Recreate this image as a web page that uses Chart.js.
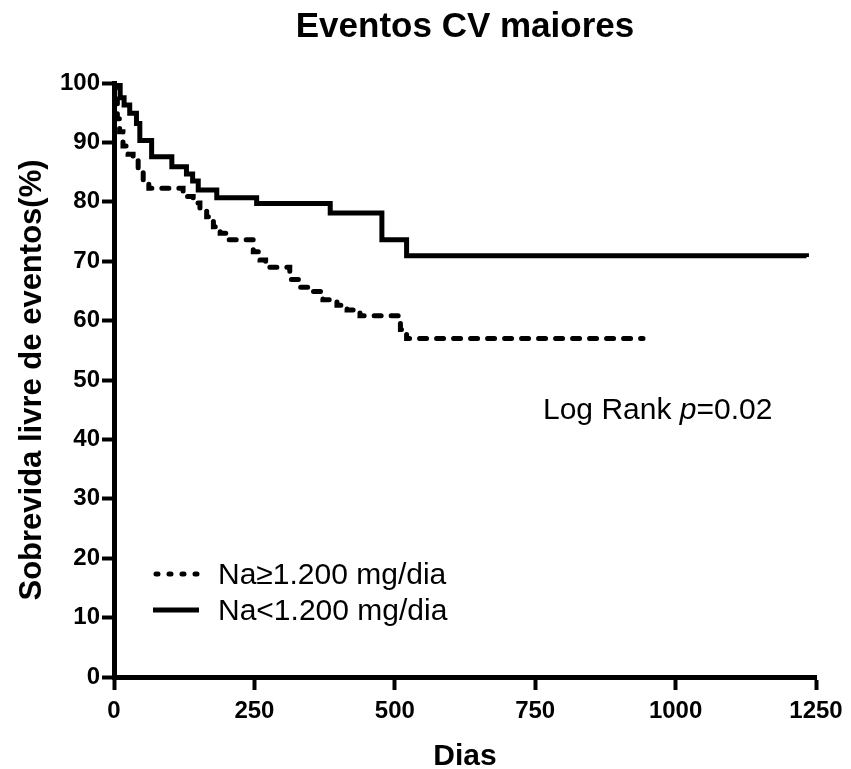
<!DOCTYPE html>
<html>
<head>
<meta charset="utf-8">
<script src="https://cdn.jsdelivr.net/npm/chart.js@4"></script>
<style>
    body { margin: 0; background: #fff; }
    #wrap { width: 851px; height: 769px; }
</style>
</head>
<body>
<div id="wrap"><canvas id="kmChart" width="851" height="769"></canvas></div>
<script>
// Na<1.200 mg/dia (solid line): day of each step and survival after it
const lowNaDays = [0, 11, 18, 28, 40, 46, 67, 103, 129, 140, 150, 183, 254, 385, 477, 521, 1233]
const lowNaSurv = [100, 97.5, 96.3, 94.9, 93.2, 90.3, 87.6, 85.9, 84.7, 83.5, 82.0, 80.7, 79.7, 78.1, 73.6, 70.9, 70.7]

// Na>=1.200 mg/dia (dashed line)
const highNaDays = [0, 3, 6, 10, 16, 25, 34, 43, 52, 62, 123, 141, 153, 165, 177, 189, 200, 248, 260, 270, 313, 331, 355, 372, 397, 415, 438, 510, 521, 942]
const highNaSurv = [100, 97, 94, 91.8, 89.4, 88, 87, 85.3, 83.7, 82.3, 80.9, 79.8, 78.5, 77.5, 75.8, 74.7, 73.6, 71.6, 70.2, 69.0, 66.9, 65.6, 64.9, 63.5, 62.6, 61.8, 60.8, 58.5, 57.0, 57.0]

const xTicks = [0, 250, 500, 750, 1000, 1250]
const yTicks = [0, 10, 20, 30, 40, 50, 60, 70, 80, 90, 100]

const legendLabels = ['Na\u22651.200 mg/dia', 'Na<1.200 mg/dia']

;(() => {
    'use strict'

    const FONT = '"Liberation Sans", Arial, Helvetica, sans-serif'
    Chart.defaults.font.family = FONT
    Chart.defaults.color = '#000'

    const toPoints = (days, surv) => days.map((d, i) => ({ x: d, y: surv[i] }))

    // legend and log rank text, placed inside the plot like the original
    const notes = {
        id: 'notes',
        afterDraw(chart) {
            const c = chart.ctx
            c.save()
            c.strokeStyle = '#000'
            c.fillStyle = '#000'
            c.lineWidth = 5

            // dashed sample
            c.lineCap = 'round'
            c.setLineDash([2, 11])
            c.beginPath()
            c.moveTo(156, 574)
            c.lineTo(200, 574)
            c.stroke()

            // solid sample
            c.lineCap = 'butt'
            c.setLineDash([])
            c.beginPath()
            c.moveTo(153, 610)
            c.lineTo(199, 610)
            c.stroke()

            c.font = '30px ' + FONT
            c.textBaseline = 'alphabetic'
            c.textAlign = 'left'
            c.fillText(legendLabels[0], 218, 584)
            c.fillText(legendLabels[1], 218, 620)

            // Log Rank p=0.02 with italic p
            let x = 543
            const y = 419
            c.fillText('Log Rank ', x, y)
            x += c.measureText('Log Rank ').width
            c.font = 'italic 30px ' + FONT
            c.fillText('p', x, y)
            x += c.measureText('p').width
            c.font = '30px ' + FONT
            c.fillText('=0.02', x, y)
            c.restore()
        }
    }

    const ctx = document.getElementById('kmChart')

    // eslint-disable-next-line no-unused-vars
    const kmChart = new Chart(ctx, {
        type: 'line',
        data: {
            datasets: [{
                label: legendLabels[0],
                data: toPoints(highNaDays, highNaSurv),
                stepped: true,
                borderColor: '#000',
                backgroundColor: 'transparent',
                borderWidth: 5,
                borderDash: [7, 10],
                borderCapStyle: 'round',
                pointRadius: 0,
                fill: false
            }, {
                label: legendLabels[1],
                data: toPoints(lowNaDays, lowNaSurv),
                stepped: true,
                borderColor: '#000',
                backgroundColor: 'transparent',
                borderWidth: 5,
                pointRadius: 0,
                fill: false
            }]
        },
        options: {
            responsive: false,
            animation: false,
            devicePixelRatio: 1,
            layout: {
                padding: { left: 0, right: 35, top: 0, bottom: 0 }
            },
            plugins: {
                legend: { display: false },
                tooltip: { enabled: false },
                title: {
                    display: true,
                    fullSize: false,
                    text: 'Eventos CV maiores',
                    color: '#000',
                    font: { size: 35, weight: 'bold', lineHeight: 1 },
                    padding: { top: 10, bottom: 38 }
                }
            },
            scales: {
                x: {
                    type: 'linear',
                    min: 0,
                    max: 1250,
                    afterFit: (scale) => { scale.height = 92 },
                    afterBuildTicks: (scale) => { scale.ticks = xTicks.map(v => ({ value: v })) },
                    ticks: {
                        color: '#000',
                        font: { size: 24, weight: 'bold' },
                        padding: 7,
                        maxRotation: 0,
                        callback: (v) => String(v)
                    },
                    grid: {
                        drawOnChartArea: false,
                        drawTicks: true,
                        tickLength: 13,
                        tickWidth: 4,
                        tickColor: '#000'
                    },
                    border: { display: true, width: 5, color: '#000' },
                    title: {
                        display: true,
                        text: 'Dias',
                        color: '#000',
                        font: { size: 30, weight: 'bold', lineHeight: 0.8 },
                        padding: { top: 0, bottom: 0 }
                    }
                },
                y: {
                    min: 0,
                    max: 100,
                    afterFit: (scale) => { scale.width = 114 },
                    afterBuildTicks: (scale) => { scale.ticks = yTicks.map(v => ({ value: v })) },
                    ticks: {
                        color: '#000',
                        font: { size: 24, weight: 'bold' },
                        padding: 2,
                        callback: (v) => String(v)
                    },
                    grid: {
                        drawOnChartArea: false,
                        drawTicks: true,
                        tickLength: 12,
                        tickWidth: 4,
                        tickColor: '#000'
                    },
                    border: { display: true, width: 5, color: '#000' },
                    title: {
                        display: true,
                        text: 'Sobrevida livre de eventos(%)',
                        color: '#000',
                        font: { size: 31, weight: 'bold', lineHeight: 1 },
                        padding: { top: 17, bottom: 0 }
                    }
                }
            }
        },
        plugins: [notes]
    })
})()
</script>
</body>
</html>
